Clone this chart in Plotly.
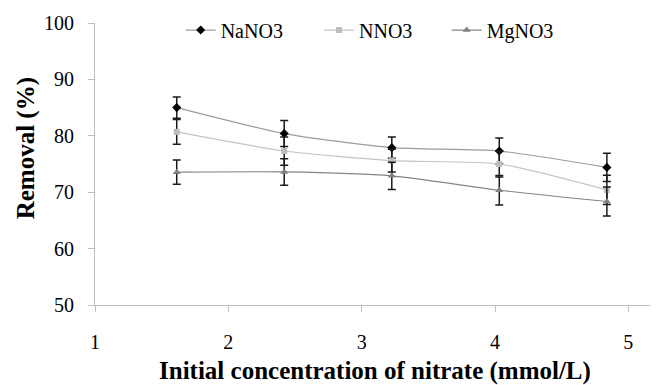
import plotly.graph_objects as go

conc = [1.613, 2.419, 3.226, 4.032, 4.839]
na_vals = [85.0, 80.4, 77.9, 77.3, 74.4]
na_err = [1.9, 2.3, 1.9, 2.3, 2.5]
nn_vals = [80.7, 77.3, 75.6, 75.0, 70.4]
nn_err = [2.2, 2.5, 2.0, 2.3, 2.6]
mg_vals = [73.55, 73.6, 72.9, 70.35, 68.35]
mg_err = [2.15, 2.35, 2.4, 2.6, 2.55]
x_ticks = [1, 2, 3, 4, 5]
y_ticks = [50, 60, 70, 80, 90, 100]

FONT = "Liberation Serif"

series = [
    ("NaNO3", na_vals, na_err, "#9c9c9c", "#000000", "diamond", 7, "legend"),
    ("NNO3", nn_vals, nn_err, "#c4c4c4", "#bdbdbd", "square", 6, "legend2"),
    ("MgNO3", mg_vals, mg_err, "#848484", "#7f7f7f", "triangle-up", 7, "legend3"),
]

fig = go.Figure()
for name, vals, err, lc, mc, sym, sz, lg in series:
    fig.add_trace(go.Scatter(
        x=conc, y=vals, name=name, mode="lines+markers",
        line=dict(color=lc, width=1.2, shape="spline", smoothing=0.6),
        marker=dict(color=mc, symbol=sym, size=sz),
        error_y=dict(type="data", array=err, visible=True, color="#1a1a1a",
                     thickness=1.5, width=4),
        legend=lg,
    ))

leg_common = dict(orientation="h", xanchor="left", y=0.975, yanchor="middle",
                  font=dict(family=FONT, size=20), bgcolor="rgba(0,0,0,0)")

# page body has an 8px default margin, so the figure is sized/offset to compensate
fig.update_layout(
    width=650, height=377,
    margin=dict(l=87, r=3, t=9, b=80),
    paper_bgcolor="white", plot_bgcolor="white",
    font=dict(family=FONT, size=20, color="#000000"),
    showlegend=True,
    legend=dict(x=0.153, **leg_common),
    legend2=dict(x=0.400, **leg_common),
    legend3=dict(x=0.628, **leg_common),
    xaxis=dict(range=[1, 5.2], tickvals=x_ticks, showline=True, linecolor="#bfbfbf",
               linewidth=1, ticks="outside", tickcolor="#bfbfbf", ticklen=6,
               showgrid=False, zeroline=False, ticklabelstandoff=13,
               automargin=False, tickfont=dict(family=FONT, size=20)),
    yaxis=dict(range=[50, 100], tickvals=y_ticks, showline=True, linecolor="#bfbfbf",
               linewidth=1, ticks="outside", tickcolor="#bfbfbf", ticklen=6,
               showgrid=False, zeroline=False, ticklabelstandoff=10,
               automargin=False, tickfont=dict(family=FONT, size=20)),
    annotations=[
        dict(text="<b>Initial concentration of nitrate (mmol/L)</b>",
             xref="paper", yref="paper", x=0.5, y=-(372 - 305) / 288,
             xanchor="center", yanchor="middle", showarrow=False,
             font=dict(family=FONT, size=25)),
        dict(text="<b>Removal (%)</b>", textangle=-90,
             xref="paper", yref="paper", x=-(95 - 26) / 560, y=(305 - 145) / 288,
             xanchor="center", yanchor="middle", showarrow=False,
             font=dict(family=FONT, size=25)),
    ],
)

fig.write_html("out.html")
